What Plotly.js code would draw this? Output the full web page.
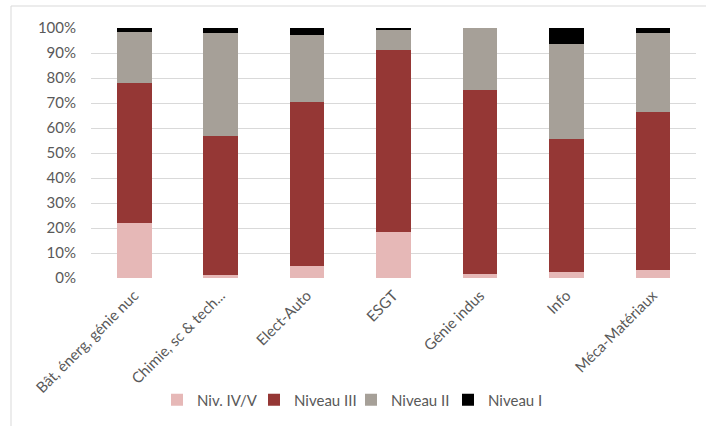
<!DOCTYPE html>
<html>
<head>
<meta charset="utf-8">
<script src="https://cdn.plot.ly/plotly-3.0.1.min.js"></script>
<style>html,body{margin:0;padding:0;background:#fff;}#chart{width:706px;height:426px;}</style>
</head>
<body>
<div id="chart"></div>
<script>
const categories = ["Bât, énerg, génie nuc", "Chimie, sc & tech...", "Elect-Auto", "ESGT", "Génie indus", "Info", "Méca-Matériaux"];
const nivIVV = [0.22, 0.013, 0.05, 0.183, 0.017, 0.026, 0.033];
const niveauIII = [0.56, 0.554, 0.656, 0.729, 0.736, 0.532, 0.63];
const niveauII = [0.205, 0.414, 0.265, 0.08, 0.247, 0.378, 0.318];
const niveauI = [0.015, 0.019, 0.029, 0.008, 0.0, 0.064, 0.019];
const seriesNames = ["Niv. IV/V", "Niveau III", "Niveau II", "Niveau I"];
const seriesColors = ["#E6B8B7", "#953735", "#A6A098", "#000000"];
const seriesValues = [nivIVV, niveauIII, niveauII, niveauI];

const W = 706, H = 426;
const L = 91, R = 10, T = 28, B = 148;
const pw = W - L - R, ph = H - T - B;

const traces = seriesValues.map((vals, i) => ({
  type: 'bar',
  name: seriesNames[i],
  x: categories,
  y: vals,
  marker: {color: seriesColors[i], line: {width: 0}},
  hoverinfo: 'x+y+name'
}));

const font = {family: 'Lato, "Open Sans", sans-serif', size: 15, color: '#595959'};
const xfont = {family: 'Lato, "Open Sans", sans-serif', size: 15, color: '#595959'};

const layout = {
  width: W, height: H,
  margin: {l: L, r: R, t: T, b: B, pad: 0},
  barmode: 'stack',
  bargap: 0.6,
  paper_bgcolor: '#ffffff',
  plot_bgcolor: '#ffffff',
  font: font,
  showlegend: true,
  legend: {
    orientation: 'h',
    x: (157 - L) / pw, xanchor: 'left',
    y: -(400 - (T + ph)) / ph, yanchor: 'middle',
    font: font,
    traceorder: 'normal',
    itemwidth: 30,
    entrywidth: 52,
    entrywidthmode: 'pixels',
    tracegroupgap: 0
  },
  xaxis: {
    type: 'category',
    tickangle: -45,
    tickfont: xfont,
    showgrid: false,
    showline: false,
    zeroline: false,
    ticks: '',
    ticklabelstandoff: 5,
    automargin: false
  },
  yaxis: {
    range: [0, 1],
    dtick: 0.1,
    tick0: 0,
    tickformat: '.0%',
    tickfont: font,
    showgrid: true,
    gridcolor: '#D9D9D9',
    gridwidth: 1,
    zeroline: false,
    showline: false,
    ticks: '',
    ticklabelstandoff: 14,
    automargin: false
  },
  shapes: [{
    type: 'rect', xref: 'paper', yref: 'paper',
    x0: (11 - L) / pw, x1: 1.2,
    y0: -1, y1: 1 + (T - 6) / ph,
    line: {color: '#D9D9D9', width: 1},
    fillcolor: 'rgba(0,0,0,0)',
    layer: 'below'
  }]
};

Plotly.newPlot('chart', traces, layout, {displayModeBar: false, staticPlot: true});
</script>
</body>
</html>
